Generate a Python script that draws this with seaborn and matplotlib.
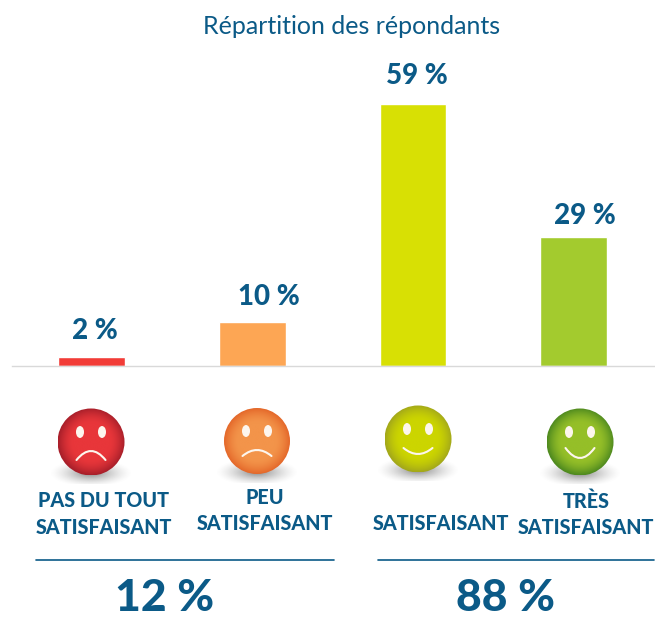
import numpy as np
import pandas as pd
import matplotlib
matplotlib.use("Agg")
import matplotlib.pyplot as plt
from matplotlib.patches import Circle, Ellipse, PathPatch
from matplotlib.path import Path
import seaborn as sns

categories = ["PAS DU TOUT\nSATISFAISANT", "PEU\nSATISFAISANT", "SATISFAISANT", "TRÈS\nSATISFAISANT"]
values = [2, 10, 59, 29]
bar_colors = ["#f23c37", "#fda654", "#d8e004", "#a3cb2e"]
summary_labels = ["12 %", "88 %"]
title = "Répartition des répondants"

BLUE = "#0b5a87"
W, H = 655, 618

sns.set_theme(style="white")
plt.rcParams["font.family"] = ["Lato", "DejaVu Sans"]

fig = plt.figure(figsize=(W / 100, H / 100), dpi=100, facecolor="white")

# bar chart, baseline sits at pixel row 366
ax = fig.add_axes([12 / W, (H - 366) / H, 643 / W, 366 / H])
df = pd.DataFrame({"cat": categories, "val": values})
sns.barplot(data=df, x="cat", y="val", hue="cat", palette=bar_colors, legend=False,
            width=0.415, dodge=False, saturation=1, ax=ax)
ax.set_xlim(-0.495, 3.507)
ax.set_ylim(0, 366 / 4.44)
ax.set_xlabel("")
ax.set_ylabel("")
ax.set_xticks([])
ax.set_yticks([])
for side in ["top", "left", "right"]:
    ax.spines[side].set_visible(False)
ax.spines["bottom"].set_color("#d9d9d9")
ax.spines["bottom"].set_linewidth(1)
ax.patch.set_alpha(0)

# labels are not centred on the bars in the original, so nudge each one (pixels)
label_nudge = [(3, 13), (17, 12), (4, 15), (11, 8)]
for i, (v, (dx, dy)) in enumerate(zip(values, label_nudge)):
    ax.annotate(f"{v} %", xy=(i, v), xytext=(dx, dy), textcoords="offset pixels", ha="center", va="bottom",
                fontsize=20, fontweight="black", color=BLUE)

# overlay in pixel coordinates for the smileys and the text below the bars
ov = fig.add_axes([0, 0, 1, 1])
ov.set_xlim(0, W)
ov.set_ylim(H, 0)
ov.axis("off")
ov.patch.set_alpha(0)


def radial(cx, cy, r, inner, outer, core=0.55):
    n = 160
    xx, yy = np.meshgrid(np.linspace(-1, 1, n), np.linspace(-1, 1, n))
    d = np.sqrt(xx ** 2 + yy ** 2)
    t = np.clip((d - core) / (1 - core), 0, 1)[..., None] ** 1.6
    rgb = (1 - t) * np.array(matplotlib.colors.to_rgb(inner)) + t * np.array(matplotlib.colors.to_rgb(outer))
    im = ov.imshow(rgb, extent=[cx - r, cx + r, cy + r, cy - r], zorder=3, interpolation="bilinear")
    im.set_clip_path(Circle((cx, cy), r, transform=ov.transData))


def shadow(cx, cy):
    n = 120
    xx, yy = np.meshgrid(np.linspace(-1, 1, n), np.linspace(-1, 1, n))
    a = np.clip(1 - np.sqrt(xx ** 2 + yy ** 2), 0, 1) ** 1.5 * 0.8
    rgba = np.zeros((n, n, 4))
    rgba[..., :3] = 0.4
    rgba[..., 3] = a
    sy = cy + 31
    im = ov.imshow(rgba, extent=[cx - 42, cx + 42, sy + 14, sy - 14], zorder=2, interpolation="bilinear")
    # shadow is cut off flat under the smiley in the reference
    im.set_clip_path(plt.Rectangle((cx - 50, cy), 100, 42, transform=ov.transData))


# cx, cy, r, inner colour, outer colour, mouth end offset, mouth middle offset
faces = [
    (91, 442, 33.5, "#e8363a", "#a81f2a", 18, 9),
    (257, 441, 33, "#f3944a", "#e4682a", 15, 9),
    (418, 439, 33.5, "#ccd500", "#a3a81a", 9, 15),
    (580, 442, 33.5, "#95bf28", "#4f8a1f", 6, 16),
]
for cx, cy, r, inner, outer, end, mid in faces:
    shadow(cx, cy)
    radial(cx, cy, r, inner, outer)
    for dx in (-11, 11):
        ov.add_patch(Ellipse((cx + dx, cy - 10), 6.6, 10.5, color="#fdf6ee", zorder=4))
    ctrl = 2 * mid - end
    mouth = Path([(cx - 14.5, cy + end), (cx, cy + ctrl), (cx + 14.5, cy + end)],
                 [Path.MOVETO, Path.CURVE3, Path.CURVE3])
    ov.add_patch(PathPatch(mouth, fill=False, edgecolor="#fdf6ee", lw=1.5, capstyle="round", zorder=4))

ov.set_xlim(0, W)
ov.set_ylim(H, 0)
ov.set_aspect("auto")

# category names
label_pos = [(104, 514), (265, 510.5), (441, 524), (586, 514)]
for (x, y), name in zip(label_pos, categories):
    ov.text(x, y, name, ha="center", va="center", fontsize=14.2, fontweight="black",
            color=BLUE, linespacing=1.45)

# summary rules and totals
ov.plot([36, 334], [560, 560], color=BLUE, lw=1.2)
ov.plot([378, 654], [560, 560], color=BLUE, lw=1.2)
for x, s in zip([165, 506], summary_labels):
    ov.text(x, 598, s, ha="center", va="center", fontsize=32, fontweight="black", color=BLUE)

ov.text(352, 27, title, ha="center", va="center", fontsize=18, color=BLUE)

fig.savefig("out.png", dpi=100, facecolor="white")
